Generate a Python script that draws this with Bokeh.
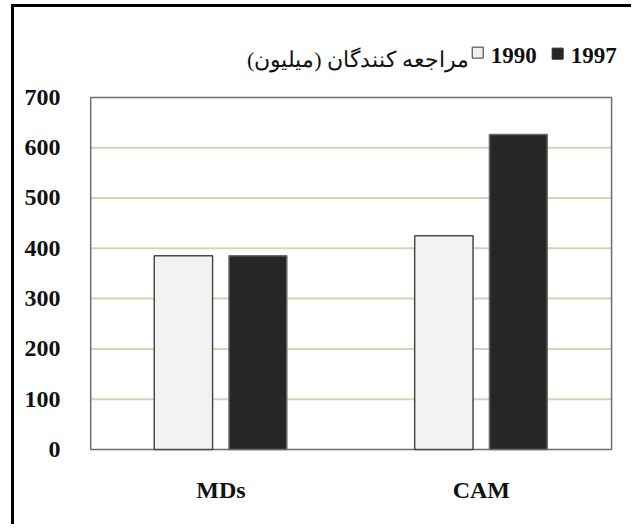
from bokeh.plotting import figure
from bokeh.models import ColumnDataSource, Label, FixedTicker, Range1d
from bokeh.embed import file_html
from bokeh.resources import INLINE

categories = ["MDs", "CAM"]
values_1990 = [385, 425]
values_1997 = [385, 626]
y_ticks = [0, 100, 200, 300, 400, 500, 600, 700]
y_max = 700
legend_title = "مراجعه کنندگان (میلیون)"
series_names = ["1990", "1997"]

centers = [i + 0.5 for i in range(len(categories))]
src = ColumnDataSource(dict(
    x1990=[c - 0.144 for c in centers], x1997=[c + 0.142 for c in centers],
    v1990=values_1990, v1997=values_1997))

# ranges extend past the plot box so the legend row and box edges stay inside the frame
p = figure(x_range=Range1d(-0.02, 2.088), y_range=Range1d(-10, 833),
           width=620, height=520, output_backend="svg", toolbar_location=None,
           min_border_left=71, min_border_right=0, min_border_top=23, min_border_bottom=73)
p.styles = {"border-left": "3px solid black", "border-top": "3px solid black",
            "margin-left": "11px", "margin-top": "4px"}

p.outline_line_color = None
p.xgrid.grid_line_color = None
p.ygrid.grid_line_color = None
p.yaxis.ticker = FixedTicker(ticks=y_ticks)
p.xaxis.ticker = FixedTicker(ticks=centers)
p.xaxis.major_label_overrides = {c: n for c, n in zip(centers, categories)}

# gridlines limited to the plot box
gy = y_ticks[1:-1]
grid = ColumnDataSource(dict(x0=[0] * len(gy), x1=[len(categories)] * len(gy), y=gy))
p.segment(x0="x0", x1="x1", y0="y", y1="y", source=grid, line_color="#d6d2b4", line_width=2)

# plot-area box (0..700)
box = ColumnDataSource(dict(l=[0], r=[len(categories)], b=[0], t=[y_max]))
p.quad(left="l", right="r", bottom="b", top="t", source=box, fill_color=None,
       line_color="#6e6e6e", line_width=1.5)

p.vbar(x="x1990", top="v1990", width=0.224, source=src,
       fill_color="#f2f2f2", line_color="#4a4a4a", line_width=1.5)
p.vbar(x="x1997", top="v1997", width=0.222, source=src,
       fill_color="#262626", line_color="#6a6a6a", line_width=1.5)

for ax in (p.xaxis, p.yaxis):
    ax.axis_line_color = None
    ax.major_tick_line_color = None
    ax.minor_tick_line_color = None
    ax.major_label_text_font = "Liberation Serif"
    ax.major_label_text_font_style = "bold"
    ax.major_label_text_font_size = "24px"
    ax.major_label_text_color = "#111111"
p.yaxis.major_label_standoff = 19
p.xaxis.major_label_standoff = 16

# legend row
ly = 783
p.add_layout(Label(x=1.451, y=ly - 8, text=legend_title, text_align="right", text_baseline="middle",
                   text_font="Liberation Serif", text_font_size="22px", text_color="#111111"))
p.scatter(x=[1.486], y=[ly + 6], marker="square", size=11, fill_color="#f0f0f0",
          line_color="#333333", line_width=1)
p.add_layout(Label(x=1.536, y=ly, text=series_names[0], text_align="left", text_baseline="middle",
                   text_font="Liberation Serif", text_font_style="bold", text_font_size="23px",
                   text_color="#111111"))
p.scatter(x=[1.793], y=[ly + 4], marker="square", size=11, fill_color="#262626",
          line_color="#262626", line_width=1)
p.add_layout(Label(x=1.843, y=ly, text=series_names[1], text_align="left", text_baseline="middle",
                   text_font="Liberation Serif", text_font_style="bold", text_font_size="23px",
                   text_color="#111111"))

open("out.html", "w").write(file_html(p, INLINE))
